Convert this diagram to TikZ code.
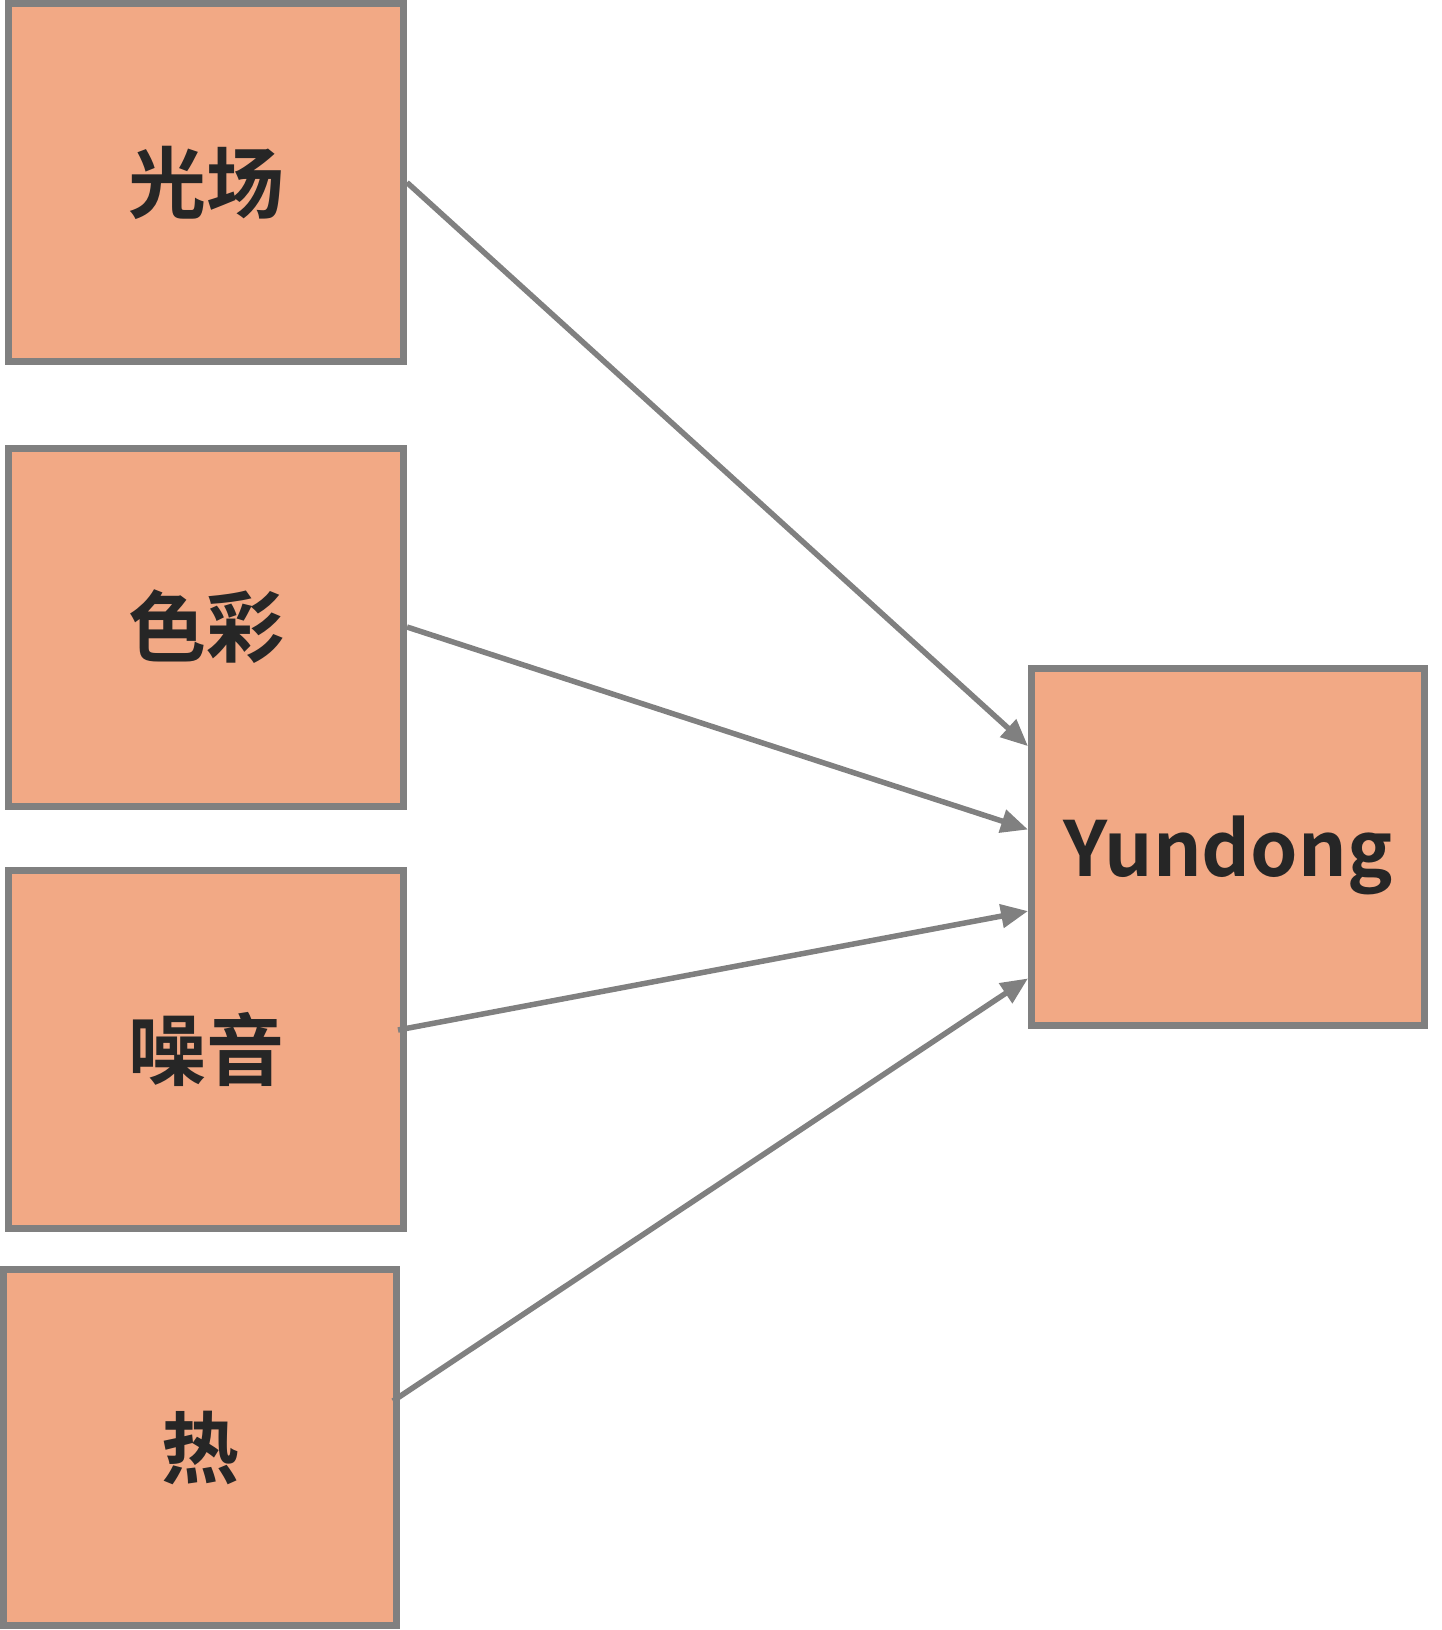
\documentclass[tikz,border=0pt]{standalone}
\usepackage{fontspec}
\newfontfamily\cjkb{Noto Sans CJK SC Bold}
\usetikzlibrary{arrows.meta,calc}
\definecolor{boxfill}{HTML}{F2A985}
\definecolor{boxline}{HTML}{808080}
\definecolor{txt}{HTML}{262626}
\begin{document}
\begin{tikzpicture}[x=1pt,y=1pt,
  inbox/.style={draw=boxline, fill=boxfill, line width=7pt, rectangle, inner sep=0pt,
    text=txt, font=\cjkb\fontsize{78}{80}\selectfont},
  link/.style={draw=boxline, line width=5.5pt, -{Triangle[length=27pt,width=23pt]}}]
\useasboundingbox (0,0) rectangle (1441,-1630);
\node[inbox, minimum width=395pt, minimum height=358pt] (b1) at (206,-182.5) {光场};
\node[inbox, minimum width=395pt, minimum height=358pt] (b2) at (206,-627) {色彩};
\node[inbox, minimum width=395pt, minimum height=358pt] (b3) at (206,-1049) {噪音};
\node[inbox, minimum width=393pt, minimum height=356pt] (b4) at (200,-1447.5) {热};
\node[inbox, minimum width=393pt, minimum height=357pt, font=\cjkb\fontsize{76}{78}\selectfont] (b5) at (1228,-847) {\raisebox{-8pt}[\height][\depth]{Yundong}};
\coordinate (s3) at (398,-1030);
\coordinate (s4) at (393,-1401);
\draw[link] (b1.east) -- ($(b5.north west)!0.223!(b5.south west)$);
\draw[link] (b2.east) -- ($(b5.north west)!0.452!(b5.south west)$);
\draw[link] (s3) -- ($(b5.north west)!0.676!(b5.south west)$);
\draw[link] (s4) -- ($(b5.north west)!0.861!(b5.south west)$);
\end{tikzpicture}
\end{document}
